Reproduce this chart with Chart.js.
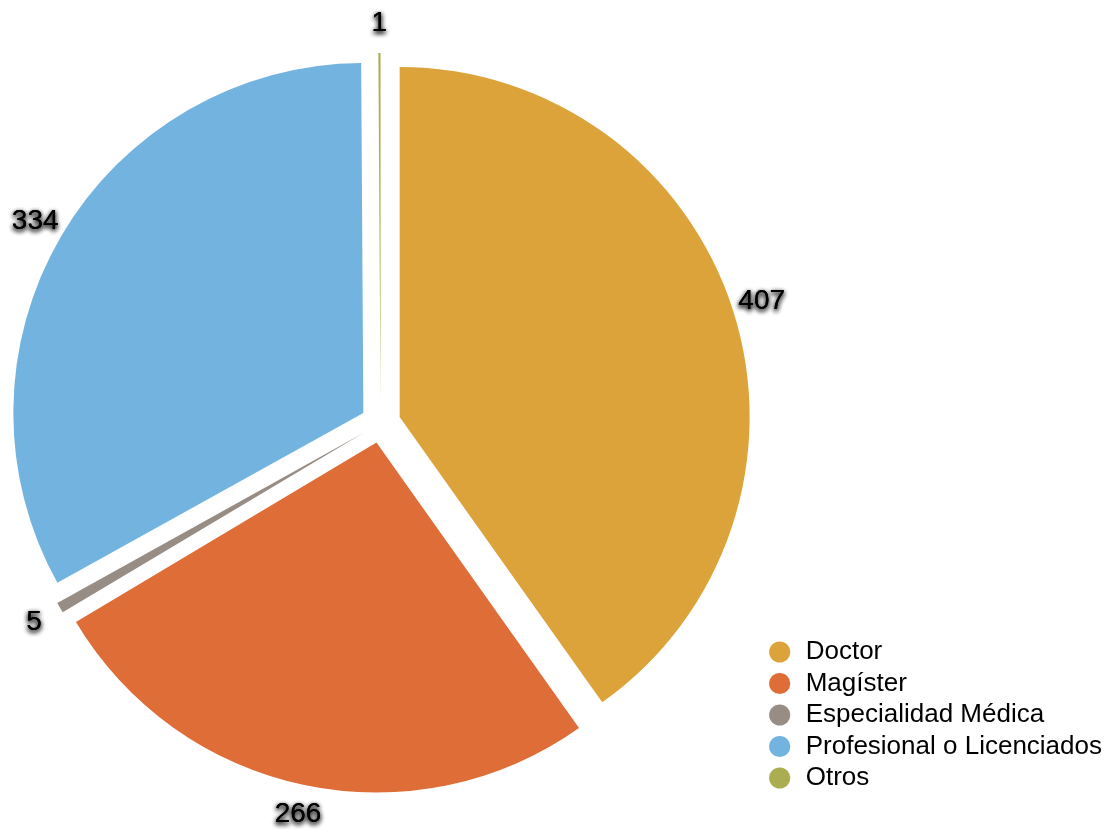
<!DOCTYPE html>
<html lang="es">
<head>
    <meta charset="UTF-8">
    <meta name="viewport" content="width=device-width, initial-scale=1.0">
    <title>Grado academico</title>
    <style>
        body { margin: 0; background: #fff; }
    </style>
</head>
<body>
    <canvas id="chart" width="1116" height="833"></canvas>

    <script src="https://cdn.jsdelivr.net/npm/chart.js@4.4.0/dist/chart.umd.min.js"></script>

    <script>
        // datos del grafico
        const categorias = ["Doctor", "Magíster", "Especialidad Médica", "Profesional o Licenciados", "Otros"];
        const valores = [407, 266, 5, 334, 1];
        const colores = ['#DCA33A', '#DE6D37', '#978D84', '#73B3E0', '#ABAE50'];

        const separacion = 20; // px que se separa cada porcion del centro

        // el offset de Chart.js recorta las porciones finas, asi que se mueven a mano
        const desplazarPorciones = {
            id: 'desplazarPorciones',
            afterDatasetUpdate(chart, args) {
                const meta = chart.getDatasetMeta(args.index);
                meta.data.forEach(arc => {
                    const medio = (arc.startAngle + arc.endAngle) / 2;
                    arc.x += Math.cos(medio) * separacion;
                    arc.y += Math.sin(medio) * separacion;
                });
            }
        };

        // etiquetas con el valor fuera de cada porcion, con sombra difusa
        const etiquetasValor = {
            id: 'etiquetasValor',
            afterDatasetsDraw(chart) {
                const ctx = chart.ctx;
                const meta = chart.getDatasetMeta(0);
                ctx.save();
                ctx.font = '28px "Liberation Sans", Arial, sans-serif';
                ctx.fillStyle = '#000';
                ctx.textAlign = 'center';
                ctx.textBaseline = 'middle';
                ctx.shadowColor = 'rgba(0, 0, 0, 0.9)';
                ctx.shadowBlur = 5;
                ctx.shadowOffsetX = 0;
                ctx.shadowOffsetY = 2;
                meta.data.forEach((arc, i) => {
                    const p = arc.getProps(['x', 'y', 'startAngle', 'endAngle', 'outerRadius']);
                    const medio = (p.startAngle + p.endAngle) / 2;
                    const r = p.outerRadius + 30;
                    const tx = p.x + Math.cos(medio) * r;
                    const ty = p.y + Math.sin(medio) * r;
                    // dos pasadas para que la sombra se note como en el original
                    ctx.fillText(String(valores[i]), tx, ty);
                    ctx.fillText(String(valores[i]), tx, ty);
                });
                ctx.restore();
            }
        };

        const data = {
            labels: categorias,
            datasets: [{
                data: valores,
                backgroundColor: colores,
                borderWidth: 0,
                radius: 350,
                clip: false
            }]
        };

        const config = {
            type: 'pie',
            data: data,
            options: {
                responsive: false,
                animation: false,
                devicePixelRatio: 1,
                layout: {
                    padding: { left: 0, right: 4, top: 49.5, bottom: 36.5 }
                },
                plugins: {
                    legend: {
                        position: 'right',
                        align: 'end',
                        labels: {
                            usePointStyle: true,
                            pointStyle: 'circle',
                            boxWidth: 26,
                            boxHeight: 15,
                            padding: 5.5,
                            color: '#000',
                            font: { family: '"Liberation Sans", Arial, sans-serif', size: 26 }
                        }
                    },
                    tooltip: { enabled: false }
                }
            },
            plugins: [desplazarPorciones, etiquetasValor]
        };

        const canvas = document.getElementById("chart").getContext("2d");
        const chart = new Chart(canvas, config);
    </script>
</body>
</html>
